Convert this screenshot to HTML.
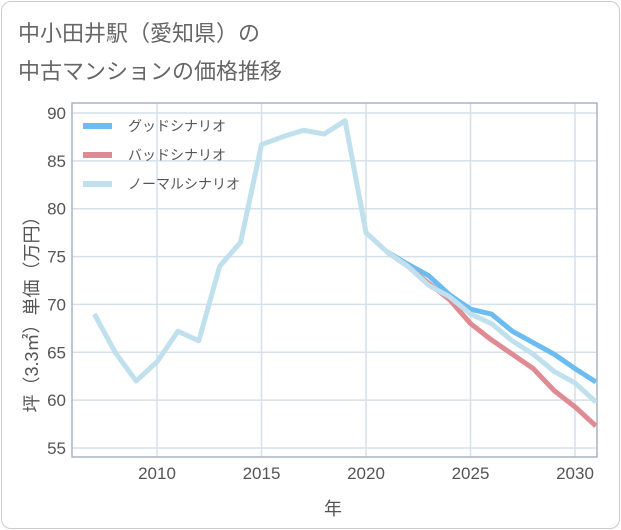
<!DOCTYPE html>
<html><head><meta charset="utf-8"><style>
body{margin:0;background:#fff;font-family:"Liberation Sans","Noto Sans CJK JP",sans-serif;}
#card{position:absolute;left:1px;top:1px;width:617px;height:526px;border:1px solid #ccc;border-radius:10px;background:#fff;}
.t{position:absolute;left:18px;font-size:22px;color:#666;font-weight:normal;}
</style></head><body>
<div id="card"></div>
<div class="t" style="top:16px">中小田井駅（愛知県）の</div>
<div class="t" style="top:54px">中古マンションの価格推移</div>
<svg id="c" width="621" height="530" style="position:absolute;left:0;top:0"></svg>
<script>
const normalYears=[2007,2008,2009,2010,2011,2012,2013,2014,2015,2016,2017,2018,2019,2020,2021,2022,2023,2024,2025,2026,2027,2028,2029,2030,2031];
const normalVals=[69,65,62,64,67.2,66.2,74,76.5,86.7,87.5,88.2,87.8,89.2,77.5,75.5,74,72,70.8,69,68,66.2,64.8,63,61.8,59.8];
const scenYears=[2021,2022,2023,2024,2025,2026,2027,2028,2029,2030,2031];
const goodVals=[75.5,74.2,73,71,69.5,69,67.2,66,64.8,63.3,61.9];
const badVals=[75.5,74,72.2,70.5,68,66.3,64.8,63.3,61,59.3,57.3];
const yTicks=[55,60,65,70,75,80,85,90];
const xTicks=[2010,2015,2020,2025,2030];
const L=72,R=597,T=103,B=457;
const X=v=>157+(v-2010)*20.9;
const Y=v=>448-(v-55)*(335/35);
const svg=document.getElementById('c');
const ns='http://www.w3.org/2000/svg';
function mk(t,a,p){const e=document.createElementNS(ns,t);for(const k in a)e.setAttribute(k,a[k]);(p||svg).appendChild(e);return e;}
yTicks.forEach(v=>{const l=mk('line',{x1:L,x2:R,y1:Y(v),y2:Y(v),stroke:'#d5e0ea','stroke-width':1.5});

const t=mk('text',{x:66,y:Y(v)+6,'text-anchor':'end','font-size':17,fill:'#555'});t.textContent=v;
});
xTicks.forEach(v=>{const l=mk('line',{x1:X(v),x2:X(v),y1:T,y2:B,stroke:'#d5e0ea','stroke-width':1.5});

const t=mk('text',{x:X(v),y:479,'text-anchor':'middle','font-size':17,fill:'#555'});t.textContent=v;
});
const fr=mk('rect',{x:L,y:T,width:R-L,height:B-T,fill:'none',stroke:'#a8b4c0','stroke-width':1.5});

const cp=mk('clipPath',{id:'cp'});mk('rect',{x:L,y:T,width:R-L,height:B-T},cp);
function line(xs,ys,col,name){const p=mk('polyline',{points:xs.map((x,i)=>X(x)+','+Y(ys[i])).join(' '),fill:'none',stroke:col,'stroke-width':5,'stroke-linejoin':'round','clip-path':'url(#cp)'});
}
line(scenYears,goodVals,'#6bbcf0','good-scenario-line');
line(scenYears,badVals,'#e08a94','bad-scenario-line');
line(normalYears,normalVals,'#bfe0ec','normal-scenario-line');
const leg=[['グッドシナリオ','#6bbcf0'],['バッドシナリオ','#e08a94'],['ノーマルシナリオ','#bfe0ec']];
leg.forEach((d,i)=>{const y=126+i*29;const r=mk('line',{x1:83,x2:112,y1:y,y2:y,stroke:d[1],'stroke-width':6});

const t=mk('text',{x:128,y:y+5,'font-size':14,fill:'#555'});t.textContent=d[0];
});
const yl=mk('text',{x:0,y:0,'font-size':18,fill:'#555','text-anchor':'middle',transform:'translate(38,310) rotate(-90)'});yl.textContent='坪（3.3㎡）単価（万円）';

const xl=mk('text',{x:333,y:515,'font-size':18,fill:'#555','text-anchor':'middle'});xl.textContent='年';

</script>
</body></html>
